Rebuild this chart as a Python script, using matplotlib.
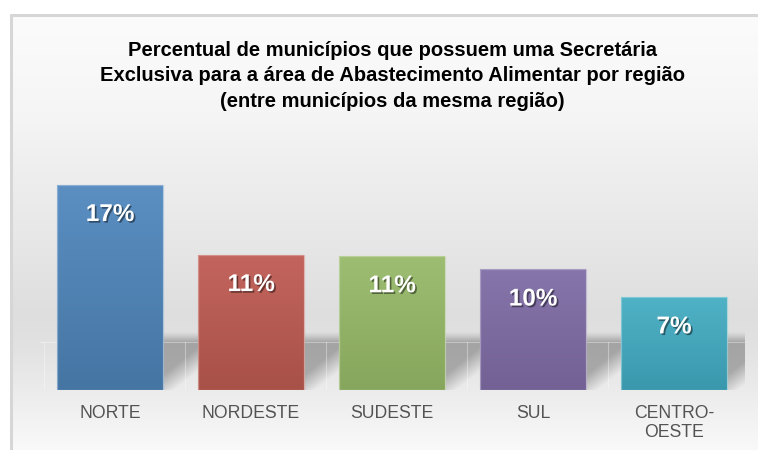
import numpy as np
import matplotlib
matplotlib.use("Agg")
import matplotlib.pyplot as plt
from matplotlib import patheffects as pe
from matplotlib.colors import to_rgb

# ---- data ----
categories = ["NORTE", "NORDESTE", "SUDESTE", "SUL", "CENTRO-\nOESTE"]
values = [17.0, 11.2, 11.1, 10.0, 7.7]
value_labels = ["17%", "11%", "11%", "10%", "7%"]
title = ("Percentual de municípios que possuem uma Secretária\n"
         "Exclusiva para a área de Abastecimento Alimentar por região\n"
         "(entre municípios da mesma região)")
top_colors = ["#5B8FC2", "#C3655E", "#9DBE72", "#8675AA", "#50B2C6"]
bottom_colors = ["#4575A3", "#A85148", "#87A65D", "#736195", "#3A98AD"]

plt.rcParams['font.family'] = ['Liberation Sans', 'DejaVu Sans']

W, H = 758, 450
fig = plt.figure(figsize=(W / 100, H / 100), dpi=100)
fig.patch.set_facecolor("white")

# ---- background panel with vertical gradient ----
bg = fig.add_axes([10 / W, 0, 1 - 10 / W, 1 - 14 / H], zorder=0)
ys = np.array([0, 60, 110, 140, 235, 300, 335, 436])  # px from panel top
vals = np.array([251, 248, 244, 240, 230, 222, 226, 249]) / 255
grid_y = np.linspace(0, 436, 437)
col = np.interp(grid_y, ys, vals)
img = np.repeat(col[:, None], 2, axis=1)
img = np.dstack([img, img, img])
bg.imshow(img, aspect="auto", extent=(0, 1, 0, 1), origin="upper")
bg.set_xlim(0, 1)
bg.set_ylim(0, 1)
for s in bg.spines.values():
    s.set_visible(False)
bg.plot([0.0015, 0.0015], [0, 1], color="#D6D6D6", lw=2.2, solid_capstyle="butt")
bg.plot([0, 1], [0.9985, 0.9985], color="#D6D6D6", lw=2.2, solid_capstyle="butt")
bg.set_xticks([])
bg.set_yticks([])

# ---- main axes ----
ax = fig.add_axes([39.5 / W, 60 / H, 705 / W, 241.6 / H], zorder=2)
ax.patch.set_alpha(0)
x = np.arange(len(categories))
width = 0.75
ax.set_xlim(-0.5, len(categories) - 0.5)
ax.set_ylim(0, 20)

px_per_unit = 241.6 / 20
floor_h = 48 / px_per_unit      # floor depth (data units)
shadow_h = 60 / px_per_unit     # shadow top (data units)

# floor shadows to the right of each bar
ny, nx = 160, 120
for i, v in enumerate(values):
    x0 = x[i] + width / 2
    x1 = x[i] + 1 - width / 2 if i < len(values) - 1 else x[i] + 0.5
    gap_px = (x1 - x0) * 141
    u = np.linspace(0, gap_px, nx)[None, :]
    vv = np.linspace(0, 60, ny)[:, None]  # px downward from shadow top
    top = np.clip((vv - 1) / 11, 0, 1) ** 1.3
    d = u + 1.24 * (vv - 3)
    diag = np.clip((82 - d) / 30, 0, 1)
    a = 0.47 * top * diag
    rgba = np.zeros((ny, nx, 4))
    rgba[..., :3] = 0.38
    rgba[..., 3] = a
    ax.imshow(rgba, extent=(x0, x1, 0, shadow_h), origin="upper",
              aspect="auto", zorder=1, interpolation="bilinear")

# floor outline
ax.plot([-0.5, len(categories) - 0.5], [floor_h, floor_h], color="white", lw=0.8, alpha=0.35, zorder=1.5)
for g in np.arange(len(categories)) - 0.5 + 0.03:
    ax.plot([g, g], [0, floor_h], color="white", lw=0.8, alpha=0.35, zorder=1.5)

# bars with gradient fill
bars = ax.bar(x, values, width=width, color="none", edgecolor="none", zorder=3)
for b, tc, bc in zip(bars, top_colors, bottom_colors):
    t = np.array(to_rgb(tc))
    bt = np.array(to_rgb(bc))
    grad = np.linspace(0, 1, 100)[:, None]
    im = t[None, None, :] * (1 - grad[..., None]) + bt[None, None, :] * grad[..., None]
    im = np.repeat(im, 2, axis=1)
    xx, yy = b.get_x(), b.get_y()
    ww, hh = b.get_width(), b.get_height()
    gi = ax.imshow(im, extent=(xx, xx + ww, yy, yy + hh), origin="upper",
                   aspect="auto", zorder=3)
    gi.set_clip_path(b)
    edge = t * 0.6 + 0.4
    ax.add_patch(plt.Rectangle((xx, yy), ww, hh, fill=False, edgecolor=edge,
                               lw=0.9, alpha=0.7, zorder=4))

# value labels
for xi, v, lab in zip(x, values, value_labels):
    ax.annotate(lab, (xi, v), xytext=(0, -21.5), textcoords="offset points",
                ha="center", va="center", fontsize=17.5, fontweight="bold",
                color="white", zorder=5,
                path_effects=[pe.withSimplePatchShadow(offset=(1.2, -1.2), shadow_rgbFace="black", alpha=0.45)])

ax.set_xticks(x)
ax.set_xticklabels(categories, fontsize=12.7, color="#535353", linespacing=1.17)
ax.tick_params(axis="x", length=0, pad=11)
ax.set_yticks([])
for s in ax.spines.values():
    s.set_visible(False)

fig.text(392 / W, 1 - 41 / H, title, ha="center", va="top", fontsize=14.5,
         fontweight="bold", color="black", linespacing=1.42)

fig.savefig("out.png", dpi=100)
